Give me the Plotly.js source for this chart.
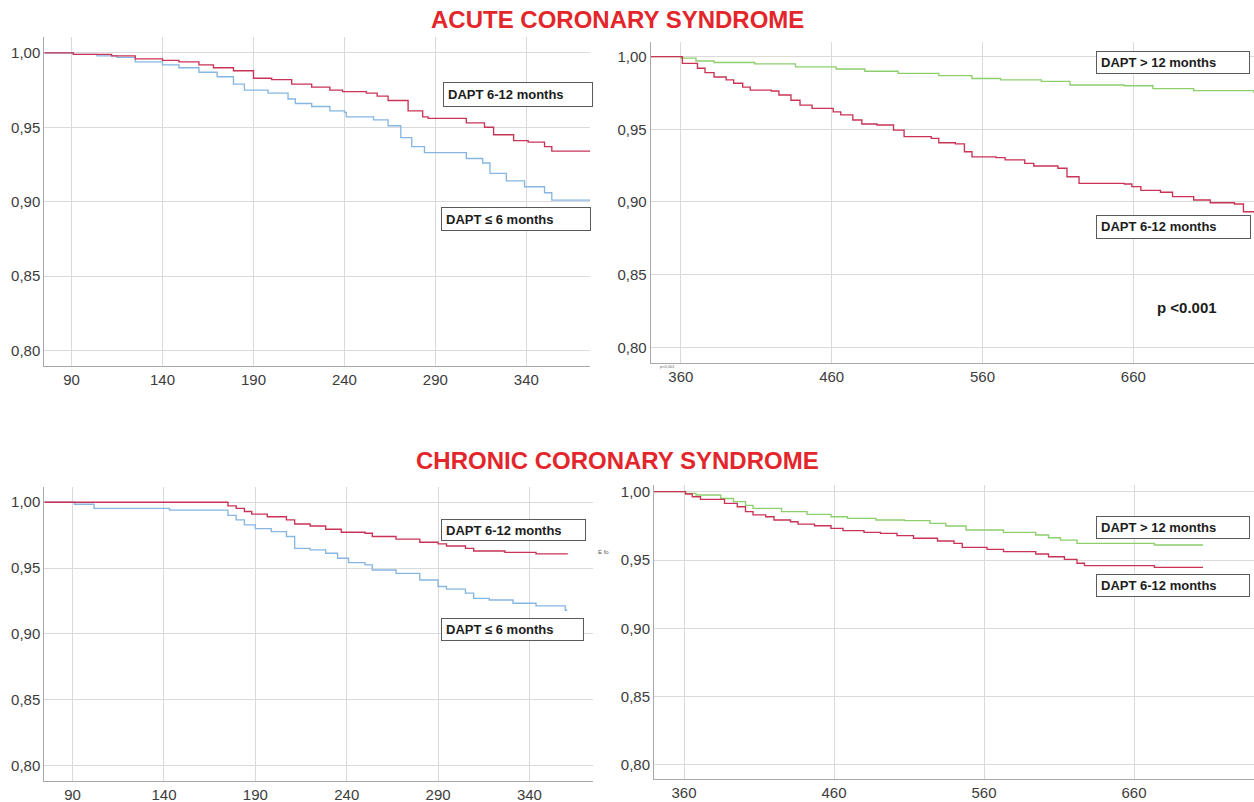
<!DOCTYPE html>
<html><head><meta charset="utf-8">
<script src="https://cdn.plot.ly/plotly-3.0.1.min.js"></script>
<style>html,body{margin:0;padding:0;background:#fff;} #chart{width:1254px;height:802px;}</style>
</head><body><div id="chart"></div>
<script>
// ---- ACS, 90-365 days ----
const acs1_red_t = [75, 91, 112, 125, 140, 149, 160, 168, 179, 190, 200, 211, 222, 232, 239, 252, 258, 264, 275, 283, 286, 307, 317, 322, 333, 341, 350, 354, 375];
const acs1_red_s = [1.000, 0.999, 0.998, 0.996, 0.995, 0.994, 0.992, 0.990, 0.988, 0.983, 0.982, 0.979, 0.977, 0.975, 0.974, 0.973, 0.971, 0.968, 0.961, 0.957, 0.956, 0.953, 0.950, 0.945, 0.941, 0.940, 0.937, 0.934, 0.934];
const acs1_blue_t = [75, 91, 104, 115, 125, 140, 149, 160, 170, 179, 185, 198, 209, 213, 222, 232, 240, 241, 256, 264, 271, 277, 284, 307, 316, 320, 329, 339, 350, 354, 375];
const acs1_blue_s = [1.000, 0.999, 0.998, 0.997, 0.994, 0.992, 0.990, 0.987, 0.984, 0.979, 0.975, 0.973, 0.969, 0.966, 0.964, 0.961, 0.960, 0.957, 0.955, 0.951, 0.943, 0.937, 0.933, 0.929, 0.926, 0.919, 0.914, 0.910, 0.906, 0.901, 0.901];
// ---- ACS, 360-740 days ----
const acs2_green_t = [340, 360, 370, 382, 409, 436, 463, 482, 504, 531, 553, 572, 599, 618, 654, 673, 700, 740];
const acs2_green_s = [1.000, 0.999, 0.997, 0.996, 0.995, 0.993, 0.9915, 0.990, 0.9885, 0.987, 0.985, 0.984, 0.983, 0.9805, 0.980, 0.978, 0.9766, 0.975];
const acs2_red_t = [340, 361, 371, 376, 382, 390, 395, 401, 406, 420, 425, 433, 439, 447, 461, 466, 474, 480, 490, 501, 508, 526, 531, 542, 548, 553, 569, 575, 588, 594, 610, 616, 624, 654, 659, 665, 678, 686, 700, 711, 727, 733, 740];
const acs2_red_s = [1.000, 0.9954, 0.992, 0.989, 0.986, 0.984, 0.9817, 0.979, 0.977, 0.9764, 0.9736, 0.970, 0.9667, 0.9644, 0.962, 0.960, 0.9564, 0.9537, 0.953, 0.9495, 0.945, 0.9438, 0.9408, 0.940, 0.9346, 0.931, 0.9305, 0.929, 0.9266, 0.9248, 0.9232, 0.9174, 0.9128, 0.9124, 0.9106, 0.908, 0.9067, 0.9037, 0.9014, 0.8995, 0.8986, 0.8933, 0.8927];
// ---- CCS, 90-365 days ----
const ccs1_red_t = [74.5, 175, 179.5, 184, 188, 196.5, 207, 211.5, 220, 228.5, 237, 250, 254, 267, 280, 290, 294.6, 305, 309.5, 326.6, 343.6, 360.7];
const ccs1_red_s = [1.000, 0.9972, 0.9954, 0.993, 0.991, 0.989, 0.9866, 0.9835, 0.982, 0.9795, 0.9772, 0.9765, 0.974, 0.972, 0.9696, 0.9684, 0.9668, 0.965, 0.963, 0.962, 0.9608, 0.9605];
const ccs1_blue_t = [74.5, 91, 101.7, 143, 175, 179.5, 184, 190, 198.7, 207, 211.5, 220, 228.5, 235, 241, 250, 254, 267, 280, 290, 294.6, 305, 309.5, 318, 331, 343.6, 359.6, 360.7];
const ccs1_blue_s = [1.000, 0.9985, 0.9954, 0.994, 0.990, 0.9866, 0.9828, 0.980, 0.9777, 0.974, 0.965, 0.9638, 0.9613, 0.9575, 0.9542, 0.9524, 0.9486, 0.946, 0.941, 0.936, 0.934, 0.931, 0.927, 0.9258, 0.9233, 0.9213, 0.918, 0.918];
// ---- CCS, 360-740 days ----
const ccs2_green_t = [340, 361, 368, 384.5, 393, 401, 406, 425, 442, 458, 469, 488, 507, 524, 534.5, 548, 573, 594.5, 603, 611, 622, 673.6, 706];
const ccs2_green_s = [1.000, 0.9988, 0.9976, 0.995, 0.9927, 0.990, 0.9878, 0.9854, 0.9834, 0.9817, 0.9805, 0.9793, 0.9788, 0.9768, 0.9749, 0.972, 0.9702, 0.9683, 0.9663, 0.9646, 0.9622, 0.961, 0.961];
const ccs2_red_t = [340, 361, 365.5, 371, 387, 395.5, 401, 406, 414.5, 420, 431, 436, 447, 458, 466, 480, 491, 502, 513, 529, 540, 545.5, 562, 573, 594.5, 603, 613.6, 622, 627, 673.6, 706];
const ccs2_red_s = [1.000, 0.9983, 0.9963, 0.9944, 0.9915, 0.989, 0.9854, 0.983, 0.9817, 0.9793, 0.978, 0.9763, 0.9751, 0.9732, 0.9715, 0.9702, 0.9695, 0.9678, 0.9659, 0.9639, 0.9622, 0.9593, 0.9578, 0.9561, 0.9544, 0.9524, 0.9505, 0.9476, 0.9459, 0.9446, 0.9446];

const titles = ["ACUTE CORONARY SYNDROME", "CHRONIC CORONARY SYNDROME"];
const lbl_612 = "DAPT 6-12 months", lbl_le6 = "DAPT ≤ 6 months", lbl_gt12 = "DAPT > 12 months";

const W = 1254, H = 802;
const RED = '#c93356', BLUE = '#86b6e2', GREEN = '#8ccf6c';
const FONT = 'Liberation Sans, Arial, sans-serif';

function tr(t, s, color, xa, ya) {
  return {x: t, y: s, type: 'scatter', mode: 'lines', line: {shape: 'hv', color: color, width: 1.35},
          xaxis: xa, yaxis: ya, hoverinfo: 'skip', showlegend: false};
}
const data = [
  tr(acs1_blue_t, acs1_blue_s, BLUE, 'x', 'y'),
  tr(acs1_red_t, acs1_red_s, RED, 'x', 'y'),
  tr(acs2_green_t, acs2_green_s, GREEN, 'x2', 'y2'),
  tr(acs2_red_t, acs2_red_s, RED, 'x2', 'y2'),
  tr(ccs1_blue_t, ccs1_blue_s, BLUE, 'x3', 'y3'),
  tr(ccs1_red_t, ccs1_red_s, RED, 'x3', 'y3'),
  tr(ccs2_green_t, ccs2_green_s, GREEN, 'x4', 'y4'),
  tr(ccs2_red_t, ccs2_red_s, RED, 'x4', 'y4'),
];

const common = {showgrid: true, gridcolor: '#dadada', gridwidth: 1, zeroline: false, showline: true,
  linecolor: '#a8a8a8', linewidth: 1, ticks: '', fixedrange: true,
  tickfont: {family: FONT, size: 15, color: '#3c3c3c'}};
function ax(extra) { return Object.assign({}, common, extra); }
function dx(a, b) { return [a / W, b / W]; }
function dy(top, bot) { return [1 - bot / H, 1 - top / H]; }

const layout = {
  width: W, height: H, margin: {l: 0, r: 0, t: 0, b: 0}, paper_bgcolor: '#fff', plot_bgcolor: 'rgba(0,0,0,0)',
  separators: ',.', showlegend: false,
  xaxis:  ax({domain: dx(44.3, 590), range: [75, 375], tick0: 90, dtick: 50, anchor: 'y'}),
  yaxis:  ax({domain: dy(37, 366), range: [0.7895, 1.0107], tick0: 0.8, dtick: 0.05, tickformat: '.2f', anchor: 'x'}),
  xaxis2: ax({domain: dx(650.7, 1254), range: [340, 740], tick0: 360, dtick: 100, anchor: 'y2'}),
  yaxis2: ax({domain: dy(41.7, 363.3), range: [0.789, 1.0103], tick0: 0.8, dtick: 0.05, tickformat: '.2f', anchor: 'x2'}),
  xaxis3: ax({domain: dx(44.3, 593.4), range: [74.5, 375], tick0: 90, dtick: 50, anchor: 'y3'}),
  yaxis3: ax({domain: dy(486.7, 780.7), range: [0.7886, 1.0118], tick0: 0.8, dtick: 0.05, tickformat: '.2f', anchor: 'x3'}),
  xaxis4: ax({domain: dx(654, 1254), range: [340, 740], tick0: 360, dtick: 100, anchor: 'y4'}),
  yaxis4: ax({domain: dy(485, 779.3), range: [0.7895, 1.0049], tick0: 0.8, dtick: 0.05, tickformat: '.2f', anchor: 'x4'}),
  annotations: []
};

function txt(cx, cy, text, size, color, bold) {
  return {xref: 'paper', yref: 'paper', x: cx / W, y: 1 - cy / H, xanchor: 'center', yanchor: 'middle',
          text: bold ? '<b>' + text + '</b>' : text, showarrow: false,
          font: {family: FONT, size: size, color: color}};
}
function box(cx, cy, w, h, text) {
  return {xref: 'paper', yref: 'paper', x: cx / W, y: 1 - cy / H, xanchor: 'center', yanchor: 'middle',
          text: '<b>' + text + '</b>', showarrow: false, width: w - 10, height: h - 10, borderpad: 4,
          bordercolor: '#5a5a5a', borderwidth: 1, bgcolor: '#fff', align: 'left', valign: 'middle',
          font: {family: FONT, size: 13, color: '#1c1c1c'}};
}
layout.annotations.push(
  txt(617.5, 19, titles[0], 24, '#e3262b', true),
  txt(617.5, 460, titles[1], 24, '#e3262b', true),
  box(518, 94.8, 150, 25, lbl_612),
  box(516, 219, 150, 24, lbl_le6),
  box(1173, 62.8, 154, 23, lbl_gt12),
  box(1173.5, 226.7, 155, 23.5, lbl_612),
  txt(1187, 307, 'p &lt;0.001', 15, '#1c1c1c', true),
  txt(667, 366.2, 'p<0.001', 4, '#666', false),
  box(513.5, 530, 145, 22, lbl_612),
  box(512.3, 629.7, 143, 22.5, lbl_le6),
  txt(603, 551.5, 'E fo', 6, '#555', false),
  box(1173, 527, 154, 23, lbl_gt12),
  box(1173, 585.5, 154, 23, lbl_612)
);

Plotly.newPlot('chart', data, layout, {staticPlot: true, displayModeBar: false});
</script></body></html>
